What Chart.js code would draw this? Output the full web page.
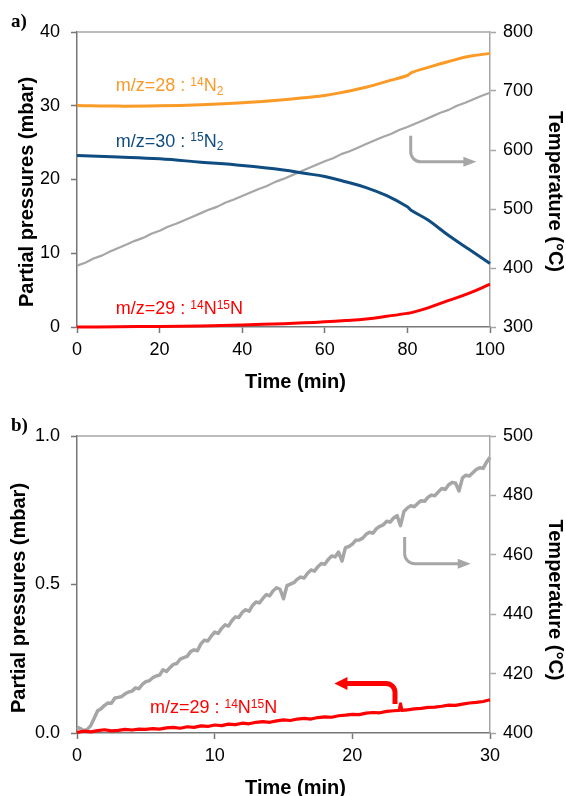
<!DOCTYPE html>
<html>
<head>
<meta charset="utf-8">
<script src="https://cdn.jsdelivr.net/npm/chart.js@4.4.0/dist/chart.umd.min.js"></script>
<style>
  body { margin: 0; background: #fff; }
  canvas { display: block; }
</style>
</head>
<body>
<canvas id="chartA" width="566" height="400"></canvas>
<canvas id="chartB" width="566" height="396"></canvas>
<script>
// ---- panel a data ----
const aTime = [0, 10, 20, 30, 40, 50, 55, 60, 65, 70, 75, 80, 81, 85, 90, 95, 100];
const aN2_28 = [30.05, 29.95, 30.0, 30.15, 30.4, 30.8, 31.1, 31.4, 31.9, 32.5, 33.3, 34.1, 34.5, 35.2, 36.0, 36.7, 37.1];
const aN2_30 = [23.25, 23.05, 22.8, 22.35, 21.9, 21.3, 20.85, 20.4, 19.7, 18.9, 17.8, 16.3, 15.8, 14.5, 12.4, 10.5, 8.6];
const aN2_29 = [0.0, 0.03, 0.08, 0.15, 0.28, 0.45, 0.56, 0.7, 0.88, 1.1, 1.45, 1.85, 1.95, 2.6, 3.6, 4.6, 5.8];

const aTempTime = Array.from({ length: 51 }, (_, i) => i * 2);
const aTemp = [
    404, 409, 416, 421, 428, 434, 440, 446, 451, 458,
    463, 470, 475, 481, 487, 493, 499, 504, 511, 516,
    522, 528, 534, 539, 546, 551, 557, 563, 569, 575,
    581, 586, 593, 598, 604, 610, 616, 622, 627, 634,
    639, 645, 651, 657, 663, 668, 675, 680, 686, 692,
    697,
];

// ---- panel b data ----
const bTempTime = Array.from({ length: 121 }, (_, i) => i * 0.25);
const bTemp = [
    402.0, 401.5, 400.8, 401.2, 402.5, 405.0, 407.5, 408.2,
    409.3, 410.1, 410.0, 411.8, 412.0, 412.3, 413.2, 413.8,
    414.1, 415.2, 414.9, 416.4, 417.3, 417.6, 418.6, 419.2,
    419.5, 421.3, 420.7, 422.0, 423.1, 423.4, 424.9, 425.4,
    425.8, 427.4, 428.0, 427.7, 430.0, 431.2, 431.0, 432.6,
    434.0, 433.5, 435.2, 436.4, 436.0, 437.8, 439.1, 438.9,
    440.6, 441.5, 441.0, 442.9, 444.1, 443.8, 445.3, 446.6,
    446.2, 447.9, 448.9, 448.4, 445.2, 449.6, 450.1, 450.6,
    451.8, 452.5, 452.2, 453.8, 454.9, 454.5, 456.0, 457.1,
    456.8, 458.4, 459.6, 459.3, 460.9, 457.9, 462.4, 462.8,
    463.6, 464.9, 465.0, 465.6, 466.9, 467.6, 467.3, 468.8,
    469.6, 470.1, 471.3, 471.0, 472.4, 473.2, 469.8, 474.6,
    475.8, 476.5, 476.2, 477.3, 478.2, 478.0, 479.4, 480.1,
    479.9, 481.2, 482.3, 482.0, 483.6, 484.4, 484.1, 481.5,
    485.9, 486.8, 486.5, 487.6, 488.7, 489.3, 489.1, 491.2,
    492.8,
];

const bRedTime = [
    0, 0.5, 1, 1.5, 2, 2.5, 3, 3.5, 4, 4.5, 5, 5.5, 6, 6.5, 7, 7.5, 8, 8.5, 9, 9.5,
    10, 10.5, 11, 11.5, 12, 12.5, 13, 13.5, 14, 14.5, 15, 15.5, 16, 16.5, 17, 17.5, 18, 18.5, 19, 19.5,
    20, 20.5, 21, 21.5, 22, 22.5, 23, 23.4, 23.5, 23.6, 24, 24.5, 25, 25.5, 26, 26.5, 27, 27.5, 28, 28.5,
    29, 29.5, 30,
];
const bN2_29 = [
    0.002, 0.006, 0.004, 0.008, 0.011, 0.007, 0.009, 0.012, 0.010, 0.013,
    0.012, 0.015, 0.013, 0.017, 0.019, 0.016, 0.021, 0.019, 0.024, 0.022,
    0.027, 0.025, 0.030, 0.028, 0.033, 0.031, 0.036, 0.038, 0.036, 0.041,
    0.044, 0.042, 0.047, 0.049, 0.047, 0.052, 0.054, 0.053, 0.058, 0.060,
    0.063, 0.062, 0.067, 0.069, 0.068, 0.073, 0.075, 0.076, 0.098, 0.076,
    0.078, 0.081, 0.083, 0.086, 0.087, 0.090, 0.094, 0.093, 0.097, 0.101,
    0.103, 0.106, 0.112,
];

const FONT = "'Liberation Sans', Arial, sans-serif";
const ORANGE = "#fb9a26";
const BLUE = "#0f4c81";
const RED = "#ff0000";
const GREY = "#a6a6a6";
const AXIS_DARK = "#777777";

function pairs(xs, ys) {
    return xs.map((x, i) => ({ x: x, y: ys[i] }));
}

function richText(ctx, x, y, parts, color) {
    ctx.fillStyle = color;
    ctx.textAlign = "left";
    ctx.textBaseline = "alphabetic";
    parts.forEach(([txt, kind]) => {
        let size = kind == "n" ? 18 : 12;
        let dy = kind == "sup" ? -5.5 : kind == "sub" ? 3.5 : 0;
        ctx.font = size + "px " + FONT;
        ctx.fillText(txt, x, y + dy);
        x += ctx.measureText(txt).width;
    });
}

function bentArrow(ctx, start, bendY, tipX, style) {
    let dir = Math.sign(tipX - start.x);
    let baseX = tipX - dir * style.headLen;
    ctx.save();
    ctx.strokeStyle = style.color;
    ctx.fillStyle = style.color;
    ctx.lineWidth = style.width;
    ctx.beginPath();
    ctx.moveTo(start.x, start.y);
    ctx.arcTo(start.x, bendY, baseX, bendY, style.radius);
    ctx.lineTo(baseX + dir, bendY);
    ctx.stroke();
    ctx.beginPath();
    ctx.moveTo(tipX, bendY);
    ctx.lineTo(baseX, bendY - style.headHalf);
    ctx.lineTo(baseX, bendY + style.headHalf);
    ctx.closePath();
    ctx.fill();
    ctx.restore();
}

function rotatedTitle(ctx, text, x, y, angle) {
    ctx.save();
    ctx.translate(x, y);
    ctx.rotate(angle);
    ctx.font = "bold 20px " + FONT;
    ctx.fillStyle = "#000";
    ctx.textAlign = "center";
    ctx.textBaseline = "alphabetic";
    ctx.fillText(text, 0, 0);
    ctx.restore();
}

// annotations drawn on top of each panel
function decoPlugin(deco) {
    return {
        id: "deco",
        afterDraw(chart) {
            let ctx = chart.ctx;
            let area = chart.chartArea;
            let sx = chart.scales.x;

            ctx.save();
            ctx.strokeStyle = GREY;
            ctx.lineWidth = 1.5;
            ctx.beginPath();
            ctx.moveTo(area.left, area.top);
            ctx.lineTo(area.right, area.top);
            ctx.stroke();
            ctx.restore();

            deco.labels.forEach((lb) => {
                richText(ctx, sx.getPixelForValue(lb.t), chart.scales.y.getPixelForValue(lb.v), lb.parts, lb.color);
            });

            deco.arrows.forEach((ar) => {
                let sy = chart.scales[ar.axis];
                bentArrow(
                    ctx,
                    { x: sx.getPixelForValue(ar.t), y: sy.getPixelForValue(ar.from) },
                    sy.getPixelForValue(ar.bend),
                    sx.getPixelForValue(ar.tip),
                    ar.style
                );
            });

            rotatedTitle(ctx, "Partial pressures (mbar)", deco.leftTitle[0], deco.leftTitle[1], -Math.PI / 2);
            rotatedTitle(ctx, "Temperature (\u00b0C)", deco.rightTitle[0], deco.rightTitle[1], Math.PI / 2);
            rotatedTitle(ctx, "Time (min)", deco.xTitle[0], deco.xTitle[1], 0);

            ctx.save();
            ctx.font = "bold 19px 'Liberation Serif', 'Times New Roman', serif";
            ctx.fillStyle = "#000";
            ctx.textAlign = "left";
            ctx.textBaseline = "alphabetic";
            ctx.fillText(deco.letter, deco.letterPos[0], deco.letterPos[1]);
            ctx.restore();
        },
    };
}

function axis(color, pad, extra) {
    return Object.assign(
        {
            border: { display: true, color: color, width: 1.5 },
            grid: { drawOnChartArea: false, drawTicks: true, tickLength: 6, tickWidth: 1.5, color: color },
            ticks: { color: "#000", font: { family: FONT, size: 18 }, padding: pad },
        },
        extra
    );
}

function makeChart(id, cfg) {
    return new Chart(document.getElementById(id), {
        type: "line",
        data: { datasets: cfg.datasets },
        options: {
            responsive: false,
            animation: false,
            events: [],
            layout: { padding: { top: cfg.top, left: 0, right: 0, bottom: 0 } },
            plugins: { legend: { display: false }, tooltip: { enabled: false } },
            elements: { point: { radius: 0 } },
            scales: {
                x: axis(AXIS_DARK, cfg.xPad, {
                    type: "linear",
                    min: cfg.xRange[0],
                    max: cfg.xRange[1],
                    afterFit: (s) => { s.height = cfg.xHeight; },
                    ticks: { color: "#000", font: { family: FONT, size: 18 }, padding: cfg.xPad, stepSize: cfg.xStep },
                }),
                y: axis(AXIS_DARK, 11, {
                    position: "left",
                    min: cfg.yRange[0],
                    max: cfg.yRange[1],
                    afterFit: (s) => { s.width = 77; },
                    ticks: {
                        color: "#000",
                        font: { family: FONT, size: 18 },
                        padding: 11,
                        stepSize: cfg.yStep,
                        callback: cfg.yFormat,
                    },
                }),
                y1: axis(GREY, 7, {
                    position: "right",
                    min: cfg.tRange[0],
                    max: cfg.tRange[1],
                    afterFit: (s) => { s.width = 76; },
                    ticks: { color: "#000", font: { family: FONT, size: 18 }, padding: 7, stepSize: cfg.tStep },
                }),
            },
        },
        plugins: [decoPlugin(cfg.deco)],
    });
}

function line(data, color, width, axisId, order, smooth) {
    return {
        data: data,
        borderColor: color,
        borderWidth: width,
        yAxisID: axisId,
        order: order,
        clip: false,
        tension: smooth ? 0.4 : 0,
        borderJoinStyle: "round",
        fill: false,
    };
}

const greyArrow = { color: GREY, width: 3, radius: 10, headLen: 13, headHalf: 5 };
const redArrow = { color: RED, width: 5, radius: 9, headLen: 13, headHalf: 6.5 };

makeChart("chartA", {
    top: 32,
    xHeight: 73,
    xPad: 6,
    xRange: [0, 100],
    xStep: 20,
    yRange: [0, 40],
    yStep: 10,
    yFormat: (v) => v,
    tRange: [300, 800],
    tStep: 100,
    datasets: [
        line(pairs(aTime, aN2_28), ORANGE, 3, "y", 1, true),
        line(pairs(aTime, aN2_30), BLUE, 3, "y", 2, true),
        line(pairs(aTime, aN2_29), RED, 3, "y", 3, true),
        line(pairs(aTempTime, aTemp), GREY, 2.2, "y1", 4, false),
    ],
    deco: {
        labels: [
            { t: 9.4, v: 32.0, color: ORANGE, parts: [["m/z=28 : ", "n"], ["14", "sup"], ["N", "n"], ["2", "sub"]] },
            { t: 9.4, v: 24.45, color: BLUE, parts: [["m/z=30 : ", "n"], ["15", "sup"], ["N", "n"], ["2", "sub"]] },
            { t: 9.4, v: 1.76, color: RED, parts: [["m/z=29 : ", "n"], ["14", "sup"], ["N", "n"], ["15", "sup"], ["N", "n"]] },
        ],
        arrows: [{ axis: "y1", t: 80.8, from: 624, bend: 580, tip: 96.7, style: greyArrow }],
        leftTitle: [32.5, 192],
        rightTitle: [549, 191.5],
        xTitle: [295.5, 388],
        letter: "a)",
        letterPos: [11, 27],
    },
});

makeChart("chartB", {
    top: 36,
    xHeight: 63,
    xPad: 6,
    xRange: [0, 30],
    xStep: 10,
    yRange: [0, 1],
    yStep: 0.5,
    yFormat: (v) => v.toFixed(1),
    tRange: [400, 500],
    tStep: 20,
    datasets: [
        line(pairs(bRedTime, bN2_29), RED, 3.2, "y", 1, false),
        line(pairs(bTempTime, bTemp), GREY, 3.5, "y1", 2, false),
    ],
    deco: {
        labels: [
            { t: 5.3, v: 0.066, color: RED, parts: [["m/z=29 : ", "n"], ["14", "sup"], ["N", "n"], ["15", "sup"], ["N", "n"]] },
        ],
        arrows: [
            { axis: "y1", t: 23.8, from: 466, bend: 457, tip: 28.6, style: greyArrow },
            { axis: "y", t: 23.1, from: 0.098, bend: 0.167, tip: 18.7, style: redArrow },
        ],
        leftTitle: [24.5, 198],
        rightTitle: [549, 200],
        xTitle: [295.5, 393.5],
        letter: "b)",
        letterPos: [11, 31],
    },
});
</script>
</body>
</html>
